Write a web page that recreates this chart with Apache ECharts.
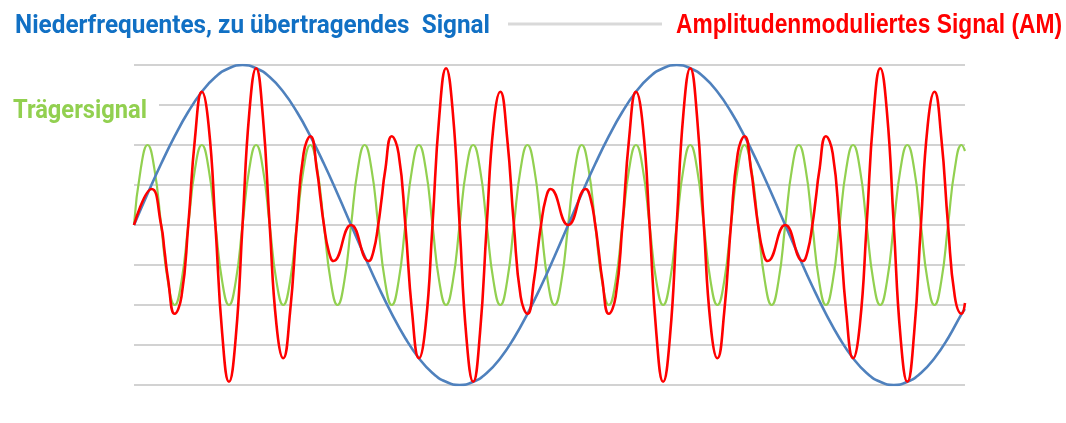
<!DOCTYPE html>
<html>
<head>
<meta charset="utf-8">
<script src="https://cdn.jsdelivr.net/npm/echarts@6/dist/echarts.min.js"></script>
<style>
  html, body { margin: 0; padding: 0; background: #fff; }
  #amChart { width: 1066px; height: 423px; }
</style>
</head>
<body>
<div id="amChart"></div>
<script>
// time axis in quarter periods of the carrier
var carrierT = [
  0, 0.5, 1, 1.5, 2, 2.5, 3, 3.5, 4, 4.5, 5, 5.5, 6, 6.5, 7, 7.5,
  8, 8.5, 9, 9.5, 10, 10.5, 11, 11.5, 12, 12.5, 13, 13.5, 14, 14.5, 15, 15.5,
  16, 16.5, 17, 17.5, 18, 18.5, 19, 19.5, 20, 20.5, 21, 21.5, 22, 22.5, 23, 23.5,
  24, 24.5, 25, 25.5, 26, 26.5, 27, 27.5, 28, 28.5, 29, 29.5, 30, 30.5, 31, 31.5,
  32, 32.5, 33, 33.5, 34, 34.5, 35, 35.5, 36, 36.5, 37, 37.5, 38, 38.5, 39, 39.5,
  40, 40.5, 41, 41.5, 42, 42.5, 43, 43.5, 44, 44.5, 45, 45.5, 46, 46.5, 47, 47.5,
  48, 48.5, 49, 49.5, 50, 50.5, 51, 51.5, 52, 52.5, 53, 53.5, 54, 54.5, 55, 55.5,
  56, 56.5, 57, 57.5, 58, 58.5, 59, 59.5, 60, 60.5, 61, 61.25
];

// Trägersignal
var carrierV = [
  0, 1.41, 2, 1.41, 0, -1.41, -2, -1.41, 0, 1.41, 2, 1.41, 0, -1.41, -2, -1.41,
  0, 1.41, 2, 1.41, 0, -1.41, -2, -1.41, 0, 1.41, 2, 1.41, 0, -1.41, -2, -1.41,
  0, 1.41, 2, 1.41, 0, -1.41, -2, -1.41, 0, 1.41, 2, 1.41, 0, -1.41, -2, -1.41,
  0, 1.41, 2, 1.41, 0, -1.41, -2, -1.41, 0, 1.41, 2, 1.41, 0, -1.41, -2, -1.41,
  0, 1.41, 2, 1.41, 0, -1.41, -2, -1.41, 0, 1.41, 2, 1.41, 0, -1.41, -2, -1.41,
  0, 1.41, 2, 1.41, 0, -1.41, -2, -1.41, 0, 1.41, 2, 1.41, 0, -1.41, -2, -1.41,
  0, 1.41, 2, 1.41, 0, -1.41, -2, -1.41, 0, 1.41, 2, 1.41, 0, -1.41, -2, -1.41,
  0, 1.41, 2, 1.41, 0, -1.41, -2, -1.41, 0, 1.41, 2, 1.85
];

// Amplitudenmoduliertes Signal (small humps where the low signal crosses zero)
var amT = [
  0, 1.3, 2, 2.25, 2.5, 3, 3.5, 4, 4.5, 5, 5.5, 6, 6.5, 7, 7.5,
  8, 8.5, 9, 9.5, 10, 10.5, 11, 11.5, 12, 12.5, 13, 13.5, 13.75, 14, 14.35, 14.7,
  16, 17.3, 17.65, 18, 18.25, 18.5, 19, 19.5, 20, 20.5, 21, 21.5, 22, 22.5, 23, 23.5,
  24, 24.5, 25, 25.5, 26, 26.5, 27, 27.5, 28, 28.5, 29, 29.5, 29.75, 30, 30.35, 30.7,
  32, 33.3, 33.65, 34, 34.25, 34.5, 35, 35.5, 36, 36.5, 37, 37.5, 38, 38.5, 39, 39.5,
  40, 40.5, 41, 41.5, 42, 42.5, 43, 43.5, 44, 44.5, 45, 45.5, 45.75, 46, 46.35, 46.7,
  48, 49.3, 49.65, 50, 50.25, 50.5, 51, 51.5, 52, 52.5, 53, 53.5, 54, 54.5, 55, 55.5,
  56, 56.5, 57, 57.5, 58, 58.5, 59, 59.5, 60, 60.5, 61, 61.25
];
var amV = [
  0, 0.9, 0, -0.65, -1.33, -2.22, -1.79, 0, 2.19, 3.33, 2.49, 0, -2.71, -3.92, -2.81,
  0, 2.81, 3.92, 2.71, 0, -2.49, -3.33, -2.19, 0, 1.79, 2.22, 1.33, 0.65, 0, -0.66, -0.9,
  0, -0.9, -0.66, 0, 0.65, 1.33, 2.22, 1.79, 0, -2.19, -3.33, -2.49, 0, 2.71, 3.92, 2.81,
  0, -2.81, -3.92, -2.71, 0, 2.49, 3.33, 2.19, 0, -1.79, -2.22, -1.33, -0.65, 0, 0.66, 0.9,
  0, 0.9, 0.66, 0, -0.65, -1.33, -2.22, -1.79, 0, 2.19, 3.33, 2.49, 0, -2.71, -3.92, -2.81,
  0, 2.81, 3.92, 2.71, 0, -2.49, -3.33, -2.19, 0, 1.79, 2.22, 1.33, 0.65, 0, -0.66, -0.9,
  0, -0.9, -0.66, 0, 0.65, 1.33, 2.22, 1.79, 0, -2.19, -3.33, -2.49, 0, 2.71, 3.92, 2.81,
  0, -2.81, -3.92, -2.71, 0, 2.49, 3.33, 2.19, 0, -1.79, -2.22, -1.95
];

// Niederfrequentes Signal
var signalT = [
  0, 1, 2, 3, 4, 5, 6, 7, 8, 9, 10, 11, 12, 13, 14, 15,
  16, 17, 18, 19, 20, 21, 22, 23, 24, 25, 26, 27, 28, 29, 30, 31,
  32, 33, 34, 35, 36, 37, 38, 39, 40, 41, 42, 43, 44, 45, 46, 47,
  48, 49, 50, 51, 52, 53, 54, 55, 56, 57, 58, 59, 60, 61, 61.25
];
var signalV = [
  0, 0.78, 1.53, 2.22, 2.83, 3.33, 3.7, 3.92, 4, 3.92, 3.7, 3.33, 2.83, 2.22, 1.53, 0.78,
  0, -0.78, -1.53, -2.22, -2.83, -3.33, -3.7, -3.92, -4, -3.92, -3.7, -3.33, -2.83, -2.22, -1.53, -0.78,
  0, 0.78, 1.53, 2.22, 2.83, 3.33, 3.7, 3.92, 4, 3.92, 3.7, 3.33, 2.83, 2.22, 1.53, 0.78,
  0, -0.78, -1.53, -2.22, -2.83, -3.33, -3.7, -3.92, -4, -3.92, -3.7, -3.33, -2.83, -2.22, -2.1
];

var labelSignal = 'Niederfrequentes, zu übertragendes  Signal';
var labelCarrier = 'Trägersignal';
var labelAm = 'Amplitudenmoduliertes Signal (AM)';

function pairs(t, v) {
  return t.map(function (x, i) { return [x, v[i]]; });
}

// squeeze a bold label to the width it has in the picture
var measureCtx = document.createElement('canvas').getContext('2d');
function label(text, font, color, x, y, width) {
  measureCtx.font = font;
  var w = measureCtx.measureText(text).width;
  return {
    type: 'text', x: x, y: y, scaleX: width / w, z: 20,
    style: { text: text, font: font, fill: color, verticalAlign: 'middle' }
  };
}

var chart = echarts.init(document.getElementById('amChart'));
chart.setOption({
  animation: false,
  grid: { left: 134, right: 101, top: 65, bottom: 38 },
  xAxis: {
    type: 'value', min: 0, max: 61.25,
    axisLine: { show: false }, axisTick: { show: false }, axisLabel: { show: false },
    splitLine: { show: false }
  },
  yAxis: {
    type: 'value', min: -4, max: 4, interval: 1,
    axisLine: { show: false }, axisTick: { show: false }, axisLabel: { show: false },
    splitLine: { show: true, lineStyle: { color: '#d2d2d2', width: 2 } }
  },
  graphic: [
    { type: 'rect', z: 10, shape: { x: 128, y: 101, width: 31, height: 8 }, style: { fill: '#fff' } },
    label(labelSignal, 'bold 26px Roboto', '#1170c4', 15, 26, 475),
    { type: 'line', shape: { x1: 508, y1: 24, x2: 662, y2: 24 }, style: { stroke: '#d9d9d9', lineWidth: 3 } },
    label(labelAm, 'bold 27px "Liberation Sans"', '#ff0000', 676, 26, 386),
    label(labelCarrier, 'bold 25px Roboto', '#92d050', 13, 112, 134)
  ],
  series: [
    {
      name: labelCarrier, type: 'line', smooth: true, showSymbol: false,
      lineStyle: { color: '#92d050', width: 2.2 },
      data: pairs(carrierT, carrierV)
    },
    {
      name: labelSignal, type: 'line', smooth: true, showSymbol: false,
      lineStyle: { color: '#4f81bd', width: 2.6 },
      data: pairs(signalT, signalV)
    },
    {
      name: labelAm, type: 'line', smooth: true, showSymbol: false,
      lineStyle: { color: '#ff0000', width: 2.6 },
      data: pairs(amT, amV)
    }
  ]
});
</script>
</body>
</html>
